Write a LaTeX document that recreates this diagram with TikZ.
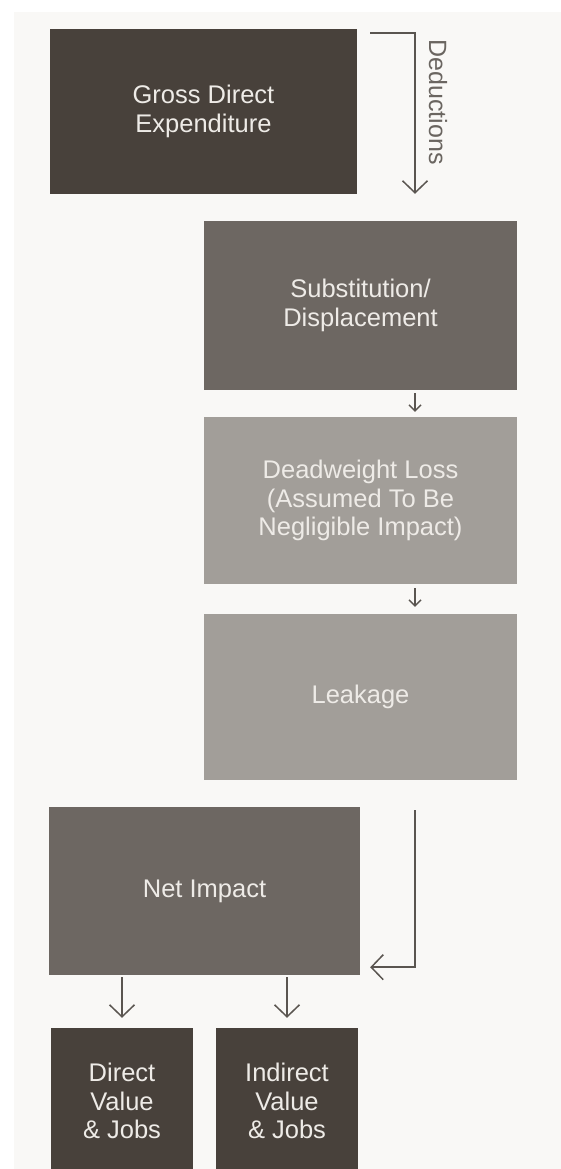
\documentclass[tikz,border=0pt]{standalone}
\usepackage{fontspec}
\setmainfont{Liberation Sans}
\usetikzlibrary{arrows.meta,calc}
\definecolor{bgpanel}{HTML}{F9F8F6}
\definecolor{darkbox}{HTML}{48413B}
\definecolor{midbox}{HTML}{6D6762}
\definecolor{lightbox}{HTML}{A29E99}
\definecolor{boxtext}{HTML}{EEEBE7}
\definecolor{linecol}{HTML}{5A5550}
\definecolor{labelcol}{HTML}{6A6560}
\tikzset{
  flowbox/.style={rectangle, inner sep=0pt, align=center, text=boxtext,
    font=\fontsize{25.5}{28.5}\selectfont},
  bigarrow/.style={draw=linecol, line width=1.5pt,
    -{Straight Barb[length=12pt,width=25pt,line width=1.5pt]}},
  smallarrow/.style={draw=linecol, line width=1.4pt,
    -{Straight Barb[length=6pt,width=12pt,line width=1.4pt]}},
}
\begin{document}
\begin{tikzpicture}[x=1pt,y=-1pt]
\useasboundingbox (0,0) rectangle (561,1169);
\fill[white] (0,0) rectangle (561,1169);
\fill[bgpanel] (14,12) rectangle (561,1169);

\node[flowbox, fill=darkbox, minimum width=307pt, minimum height=165pt] (gross) at (203.5,111.5) {Gross Direct\\Expenditure};
\node[flowbox, fill=midbox, minimum width=313pt, minimum height=169pt] (sub) at (360.5,305.5) {Substitution/\\Displacement};
\node[flowbox, fill=lightbox, minimum width=313pt, minimum height=167pt] (dead) at (360.5,500.5) {Deadweight Loss\\(Assumed To Be\\Negligible Impact)};
\node[flowbox, fill=lightbox, minimum width=313pt, minimum height=166pt] (leak) at (360.5,697) {Leakage};
\node[flowbox, fill=midbox, minimum width=311pt, minimum height=168pt] (net) at (204.5,891) {Net Impact};
\node[flowbox, fill=darkbox, minimum width=142pt, minimum height=146pt] (direct) at (122,1101) {Direct\\Value\\\&~Jobs};
\node[flowbox, fill=darkbox, minimum width=142pt, minimum height=146pt] (indirect) at (287,1101) {Indirect\\Value\\\&~Jobs};

% Deductions arrow
\coordinate (dstart) at ($(gross.north east)+(13,4)$);
\coordinate (dend) at ($(sub.north)+(54.5,-27)$);
\draw[bigarrow] (dstart) -| (dend);
\node[rotate=-90, text=labelcol, font=\fontsize{25}{28}\selectfont, inner sep=0pt] (dlabel) at (438,102) {Deductions};

% small arrows between deduction boxes
\draw[smallarrow] ($(sub.south)+(54.5,3)$) -- ($(dead.north)+(54.5,-5)$);
\draw[smallarrow] ($(dead.south)+(54.5,4)$) -- ($(leak.north)+(54.5,-7)$);

% return arrow into net impact
\coordinate (rstart) at ($(leak.south)+(54.5,30)$);
\coordinate (rend) at ($(net.south east)+(10,-8)$);
\draw[bigarrow] (rstart) |- (rend);

% arrows to outcomes
\draw[bigarrow] ($(net.south -| direct.north)+(0,2)$) -- ($(direct.north)+(0,-10)$);
\draw[bigarrow] ($(net.south -| indirect.north)+(0,2)$) -- ($(indirect.north)+(0,-10)$);
\end{tikzpicture}
\end{document}
